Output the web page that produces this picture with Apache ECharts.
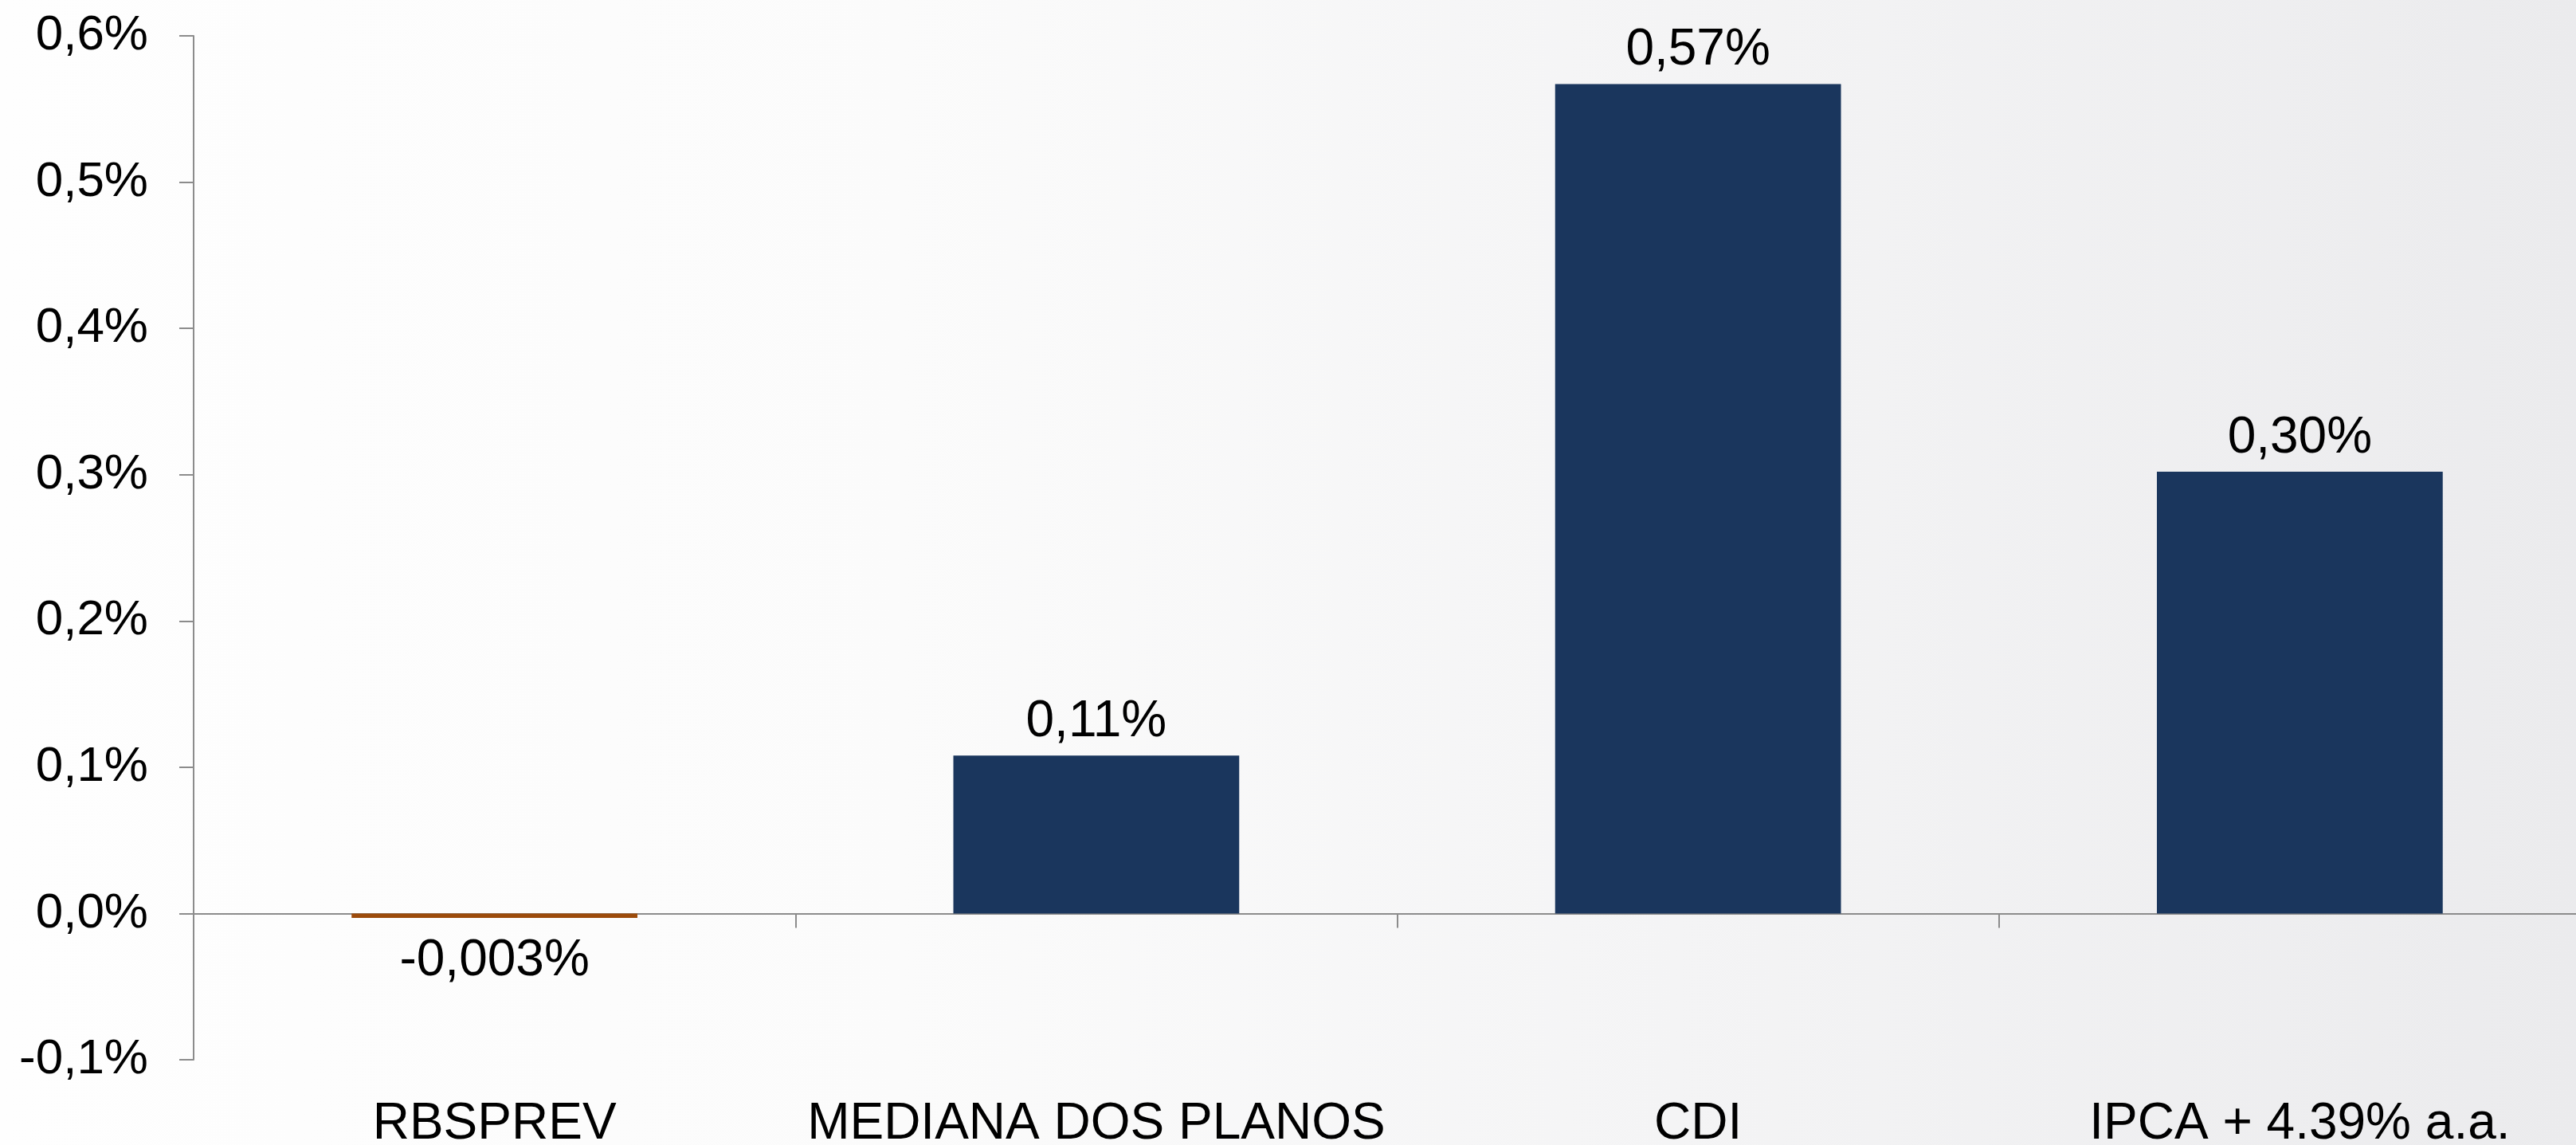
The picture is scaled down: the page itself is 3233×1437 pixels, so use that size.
<!DOCTYPE html>
<html>
<head>
<meta charset="utf-8">
<script src="https://cdn.jsdelivr.net/npm/echarts@6/dist/echarts.min.js"></script>
<style>
  html, body { margin: 0; padding: 0; overflow: hidden; }
  #chart {
    width: 3233px; height: 1437px;
    background: linear-gradient(90deg, #fefefe 0%, #fbfbfb 35%, #f4f4f5 65%, #ebebed 100%);
  }
</style>
</head>
<body>
<div id="chart"></div>
<script>
const categories = ['RBSPREV', 'MEDIANA DOS PLANOS', 'CDI', 'IPCA + 4.39% a.a.'];
const values = [-0.003, 0.108, 0.567, 0.302];
const valueLabels = ['-0,003%', '0,11%', '0,57%', '0,30%'];
const barColors = ['#9C4B0B', '#1A365D', '#1A365D', '#1A365D'];
const yMin = -0.1, yMax = 0.6, yStep = 0.1;

const FONT = "'Liberation Sans', Arial, sans-serif";
const chart = echarts.init(document.getElementById('chart'), null, { renderer: 'canvas' });

const data = values.map((v, i) => ({
  value: v,
  itemStyle: { color: barColors[i] },
  label: {
    show: true,
    position: v < 0 ? 'bottom' : 'top',
    distance: v < 0 ? 22 : 10,
    formatter: () => valueLabels[i]
  }
}));

chart.setOption({
  backgroundColor: 'transparent',
  animation: false,
  grid: { left: 243, width: 3021, top: 45, bottom: 107, containLabel: false, outerBoundsMode: 'none' },
  xAxis: [
    {
      type: 'category',
      data: categories,
      axisLine: { show: true, onZero: true, lineStyle: { color: '#8c8c8c', width: 2 } },
      axisTick: { show: true, alignWithLabel: false, length: 18, inside: false, lineStyle: { color: '#8c8c8c', width: 2 } },
      axisLabel: { show: false }
    },
    {
      type: 'category',
      data: categories,
      position: 'bottom',
      axisLine: { show: false, onZero: false },
      axisTick: { show: false },
      axisLabel: { show: true, color: '#000', fontSize: 64, fontFamily: FONT, margin: 49, interval: 0 }
    }
  ],
  yAxis: {
    type: 'value',
    min: yMin, max: yMax, interval: yStep,
    axisLine: { show: true, lineStyle: { color: '#8c8c8c', width: 2 } },
    axisTick: { show: true, length: 18, lineStyle: { color: '#8c8c8c', width: 2 } },
    splitLine: { show: false },
    axisLabel: {
      color: '#000', fontSize: 62, fontFamily: FONT, margin: 57,
      formatter: v => (Math.abs(v) < 1e-9 ? 0 : v).toFixed(1).replace('.', ',') + '%'
    }
  },
  series: [{
    type: 'bar',
    xAxisIndex: 0,
    data: data,
    barWidth: '47.5%',
    label: { color: '#000', fontSize: 64, fontFamily: FONT }
  }]
});
</script>
</body>
</html>
